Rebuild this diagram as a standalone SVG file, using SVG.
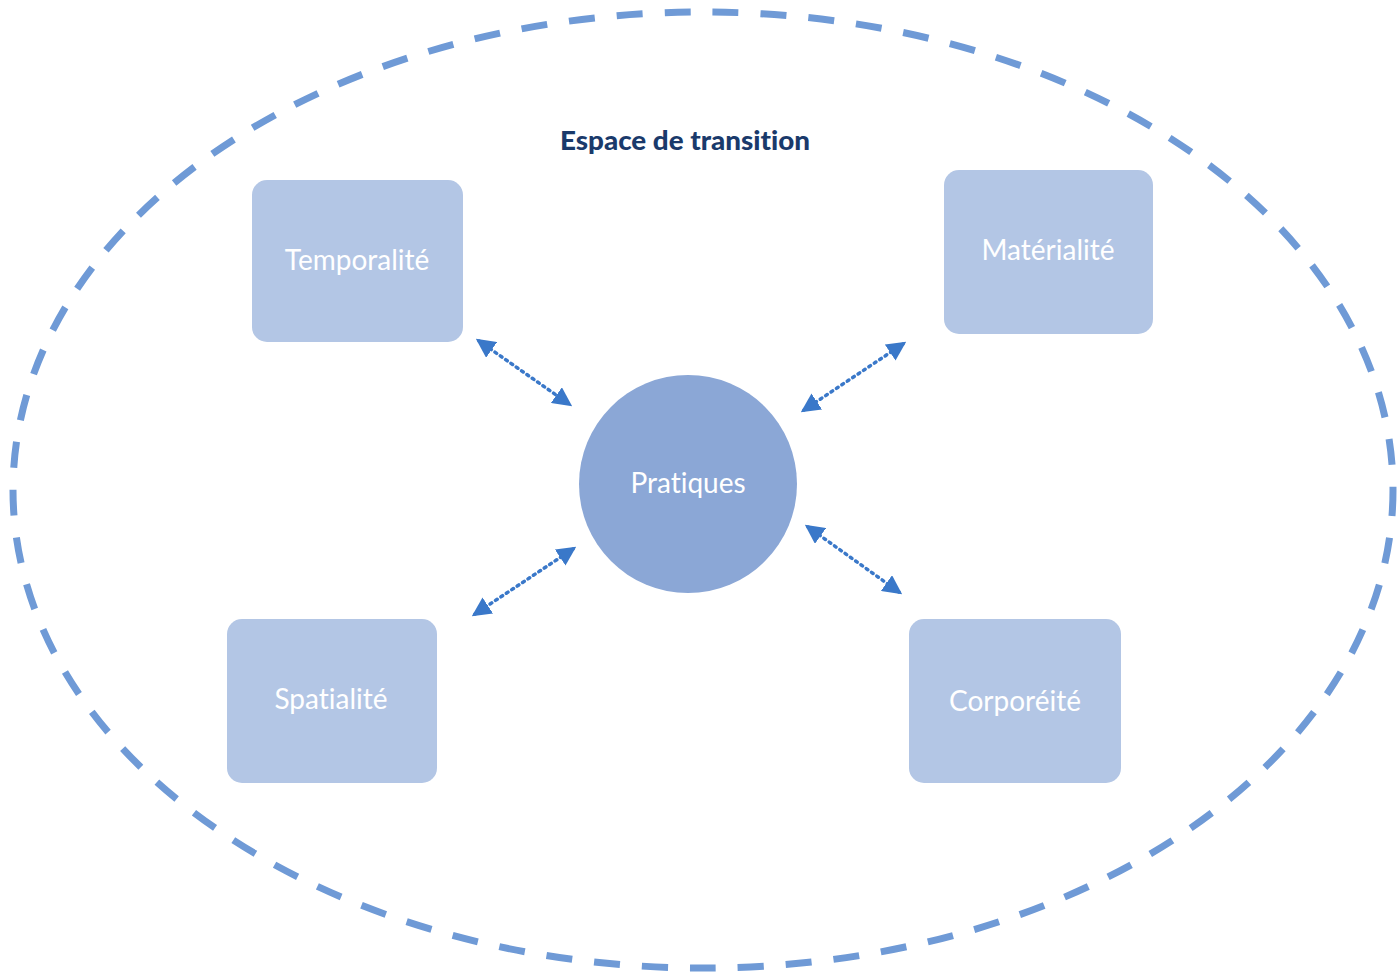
<svg xmlns="http://www.w3.org/2000/svg" width="1399" height="976" viewBox="0 0 1399 976">
<style>
.box{fill:#b3c6e5;}
.lbl{font-family:Lato,"Open Sans","Liberation Sans",sans-serif;font-size:28px;fill:#ffffff;text-anchor:middle;font-variant-ligatures:none;}
.conn{stroke:#3a78c9;stroke-width:3.5;stroke-dasharray:2 4.5;stroke-linecap:round;fill:none;marker-start:url(#ah);marker-end:url(#ah);}
</style>
<defs>
<marker id="ah" viewBox="0 0 10 10" refX="8" refY="5" markerWidth="5.5" markerHeight="5.5" orient="auto-start-reverse" markerUnits="strokeWidth">
<path d="M0,0 L10,5 L0,10 z" fill="#3a78c9"/>
</marker>
</defs>
<rect width="1399" height="976" fill="#ffffff"/>
<g id="frontier">
<ellipse cx="703" cy="490" rx="690" ry="478" fill="none" stroke="#6f9ad6" stroke-width="7" stroke-dasharray="26 22"/>
</g>
<g id="title">
<text x="685" y="150" font-family="Lato,'Open Sans','Liberation Sans',sans-serif" font-size="27" font-weight="900" fill="#1a3a6b" text-anchor="middle" style="font-variant-ligatures:none" textLength="250" lengthAdjust="spacingAndGlyphs">Espace de transition</text>
</g>
<g id="connectors">
<line class="conn" x1="479" y1="341" x2="569" y2="404"/>
<line class="conn" x1="903" y1="344" x2="804" y2="410"/>
<line class="conn" x1="573" y1="549" x2="475" y2="614"/>
<line class="conn" x1="808" y1="527" x2="899" y2="592"/>
</g>
<g id="temporalite">
<rect class="box" x="252" y="180" width="211" height="162" rx="15"/>
<text class="lbl" x="357" y="270">Temporalité</text>
</g>
<g id="materialite">
<rect class="box" x="944" y="170" width="209" height="164" rx="15"/>
<text class="lbl" x="1048" y="260">Matérialité</text>
</g>
<g id="spatialite">
<rect class="box" x="227" y="619" width="210" height="164" rx="15"/>
<text class="lbl" x="331" y="709">Spatialité</text>
</g>
<g id="corporeite">
<rect class="box" x="909" y="619" width="212" height="164" rx="15"/>
<text class="lbl" x="1015" y="711">Corporéité</text>
</g>
<g id="pratiques">
<circle cx="688" cy="484" r="109" fill="#8ba7d6"/>
<text class="lbl" x="688" y="493">Pratiques</text>
</g>
</svg>
